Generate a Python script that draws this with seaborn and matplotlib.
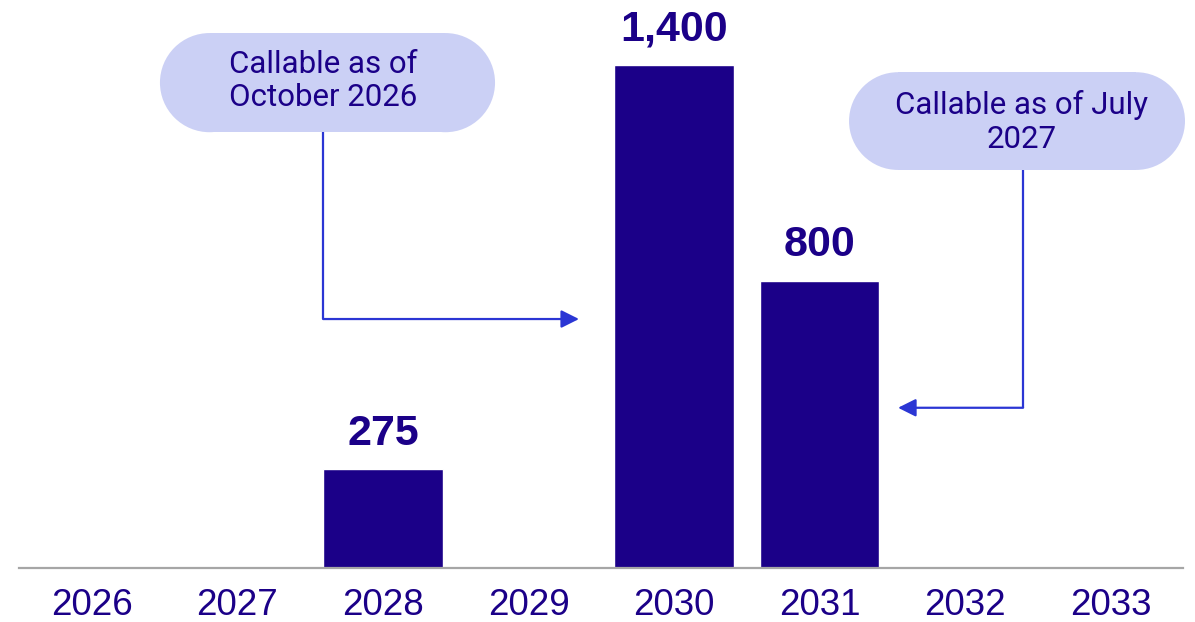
import matplotlib
matplotlib.use("Agg")
import matplotlib.pyplot as plt
import seaborn as sns
from matplotlib.patches import Rectangle, Ellipse

# ---- data ----
years = ["2026", "2027", "2028", "2029", "2030", "2031", "2032", "2033"]
values = [0, 0, 275, 0, 1400, 800, 0, 0]
bubble_texts = ["Callable as of\nOctober 2026", "Callable as of July\n2027"]

BAR = "#1b0088"
BUBBLE = "#cbd0f5"
ARROW = "#2b36d4"
AXIS = "#a6a6a6"

sns.set_theme(style="white")
plt.rcParams["font.family"] = ["Liberation Sans", "DejaVu Sans"]

W, H = 1195, 622
fig = plt.figure(figsize=(W / 100, H / 100), dpi=100)
ax = fig.add_axes([19.25 / W, 54 / H, 1164 / W, 568 / H])

sns.barplot(x=years, y=values, color=BAR, saturation=1, width=0.818, ax=ax)
ax.set_xlim(-0.5, 7.5)
ax.set_ylim(0, 1581)

for s in ["top", "left", "right"]:
    ax.spines[s].set_visible(False)
ax.spines["bottom"].set_color(AXIS)
ax.spines["bottom"].set_linewidth(1.6)
ax.set_yticks([])
ax.set_xlabel("")
ax.set_ylabel("")
ax.tick_params(axis="x", length=0, pad=14.5, labelsize=26.5, labelcolor=BAR)

labels = [f"{v:,}" if v else "" for v in values]
ax.bar_label(ax.containers[0], labels=labels, padding=11, fontsize=31,
             fontweight="bold", color=BAR)

# scale of px per data unit
px_x = 1164 / 8
px_y = 568 / 1581

def add_bubble(x0, x1, y0, y1, text, tx, ty):
    h = y1 - y0
    r = (h * px_y / 2) / px_x  # radius of the rounded ends in x units
    kw = dict(fc=BUBBLE, ec="none", lw=0, clip_on=False, zorder=3)
    ax.add_patch(Rectangle((x0 + r, y0), (x1 - x0) - 2 * r, h, **kw))
    ax.add_patch(Ellipse((x0 + r, y0 + h / 2), 2 * r, h, **kw))
    ax.add_patch(Ellipse((x1 - r, y0 + h / 2), 2 * r, h, **kw))
    ax.text(tx, ty, text, ha="center", va="center", fontsize=22.5,
            color=BAR, family=["Roboto", "DejaVu Sans"], linespacing=1.2,
            zorder=4, clip_on=False)

add_bubble(0.467, 2.770, 1213, 1489, bubble_texts[0], 1.59, 1356)
add_bubble(5.203, 7.512, 1108, 1380, bubble_texts[1], 6.39, 1242)

def add_arrow(xv, ytop, ylow, xtip):
    ax.plot([xv, xv], [ytop, ylow], color=ARROW, lw=1.6, solid_capstyle="butt",
            zorder=2, clip_on=False)
    ax.annotate("", xy=(xtip, ylow), xytext=(xv, ylow),
                arrowprops=dict(arrowstyle="-|>,head_length=0.9,head_width=0.45",
                                color=ARROW, lw=1.6, shrinkA=0, shrinkB=0),
                zorder=2)

add_arrow(1.588, 1213, 693, 3.347)
add_arrow(6.399, 1108, 446, 5.54)

fig.savefig("out.png", dpi=100)
